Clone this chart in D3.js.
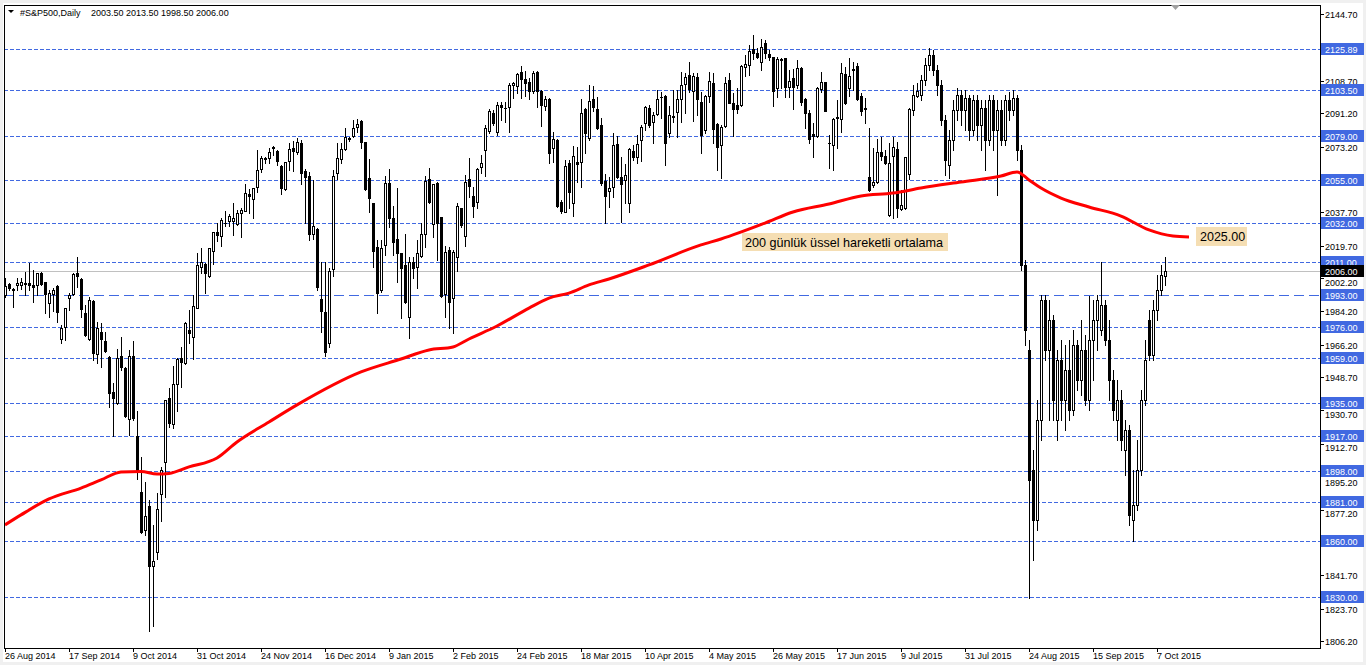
<!DOCTYPE html>
<html><head><meta charset="utf-8">
<script src="https://cdn.jsdelivr.net/npm/d3@7/dist/d3.min.js"></script>
<style>
html,body{margin:0;padding:0;background:#f0f0f0;overflow:hidden;}
svg{display:block;}
text{font-family:"Liberation Sans",Arial,sans-serif;}
</style></head><body>
<svg id="chart" width="1366" height="665"></svg>
<script>
// ---- data ----
const symbol = "#S&P500,Daily";
const tickBars = [0,16,32,48,64,80,96,112,128,144,160,176,192,208,224,240,256,272,288];
const tickLabels = ["26 Aug 2014","17 Sep 2014","9 Oct 2014","31 Oct 2014","24 Nov 2014","16 Dec 2014","9 Jan 2015","2 Feb 2015","24 Feb 2015","18 Mar 2015","10 Apr 2015","4 May 2015","26 May 2015","17 Jun 2015","9 Jul 2015","31 Jul 2015","24 Aug 2015","15 Sep 2015","7 Oct 2015"];

const opens = [
1993.0,1998.8,1996.2,1998.5,1998.5,1999.3,1999.5,1998.6,1998.5,2004.8,
1999.9,1988.6,1993.4,1997.9,1969.5,1975.6,1991.3,1993.4,2004.8,2001.7,
1983.2,1969.1,1990.0,1961.0,1973.2,1968.4,1959.7,1940.7,1934.6,1960.1,
1953.5,1925.9,1960.1,1917.0,1886.7,1866.2,1879.1,1846.7,1854.3,1885.8,
1902.7,1937.3,1923.2,1944.8,1958.9,1956.2,1974.2,1970.2,1986.2,2008.3,
2009.8,2003.5,2017.0,2026.9,2025.1,2032.2,2033.2,2033.2,2031.4,2037.2,
2038.4,2047.4,2045.1,2051.2,2060.9,2066.8,2067.2,2073.1,2070.8,2062.7,
2050.1,2065.6,2072.3,2070.4,2075.0,2060.2,2057.3,2025.8,2028.5,1990.9,
1983.7,1967.0,2006.9,2058.8,2066.3,2071.7,2077.7,2079.1,2083.9,2087.0,
2075.5,2056.1,2042.6,2018.8,1995.8,2020.1,2053.7,2034.8,2023.1,2015.6,
2009.3,1981.0,2011.0,2008.3,2014.3,2025.8,2055.7,2031.2,2053.4,2035.0,
1993.4,2017.4,1991.3,2013.7,2039.9,2025.1,2055.7,2046.5,2043.1,2062.3,
2071.4,2081.6,2091.5,2081.2,2095.7,2094.3,2094.4,2106.5,2105.9,2113.3,
2109.5,2108.2,2103.4,2113.6,2103.4,2095.3,2098.7,2072.3,2076.8,2043.1,
2038.0,2064.2,2042.6,2065.0,2065.0,2093.3,2077.7,2098.7,2093.3,2084.9,
2054.6,2049.4,2051.5,2074.6,2056.9,2055.2,2042.6,2070.8,2067.7,2076.8,
2085.8,2093.9,2086.6,2090.8,2100.2,2100.5,2080.4,2089.7,2092.0,2098.7,
2107.0,2111.9,2103.4,2111.0,2097.4,2082.2,2100.5,2107.7,2085.2,2074.1,
2084.5,2109.2,2096.6,2095.7,2095.7,2116.0,2117.3,2125.9,2123.6,2118.7,
2129.0,2123.2,2121.4,2104.7,2120.4,2120.9,2105.2,2110.1,2106.5,2115.5,
2098.7,2091.2,2080.0,2078.9,2104.1,2107.9,2075.1,2074.1,2089.0,2087.9,
2112.2,2105.0,2115.1,2116.7,2100.5,2093.9,2056.9,2052.5,2054.2,2070.4,
2068.1,2036.3,2068.1,2071.7,2039.3,2039.9,2058.4,2093.0,2100.7,2101.1,
2109.2,2117.3,2122.7,2114.6,2106.5,2087.6,2063.3,2076.8,2093.0,2101.1,
2093.0,2099.4,2082.2,2098.4,2084.9,2094.0,2076.8,2098.4,2082.2,2093.0,
2076.8,2098.4,2093.0,2099.4,2071.4,2009.3,1963.4,1898.6,1871.6,1925.6,
1990.4,1963.4,1979.6,1925.6,1958.0,1936.4,1952.6,1931.0,1966.1,1947.2,
1963.4,1936.4,1968.8,1979.6,1974.2,1987.7,1968.8,1947.2,1925.6,1936.4,
1909.4,1920.2,1871.6,1879.7,1898.6,1936.4,1979.6,1960.7,1985.0,1995.8,
2003.5];

const highs = [
2002.2,1999.7,1997.0,2002.2,2002.4,2005.5,2010.5,2006.6,2005.1,2005.5,
2000.2,1995.8,1996.7,1998.2,1976.9,1986.1,1994.0,2004.8,2013.7,2002.0,
1987.7,1992.1,1990.4,1978.6,1977.8,1973.2,1960.0,1945.3,1963.7,1970.2,
1954.3,1963.4,1968.4,1930.4,1905.6,1892.2,1882.4,1868.9,1886.1,1900.3,
1936.6,1942.7,1954.9,1959.2,1964.8,1978.6,1985.0,1993.1,2015.6,2018.6,
2010.2,2018.5,2027.1,2031.8,2034.5,2038.4,2036.6,2042.6,2039.0,2039.9,
2053.0,2050.1,2050.8,2071.4,2068.1,2067.7,2072.3,2073.5,2071.4,2063.3,
2065.0,2075.0,2076.4,2077.6,2076.8,2060.9,2059.3,2055.2,2029.1,2011.0,
2010.7,2007.5,2060.6,2075.3,2075.0,2083.1,2078.5,2087.6,2087.9,2087.6,
2075.8,2066.3,2042.9,2022.8,2022.8,2057.3,2060.9,2041.1,2050.7,2015.9,
2025.8,2013.7,2013.7,2022.8,2031.8,2057.3,2061.5,2053.2,2054.2,2035.2,
2019.5,2019.1,2017.4,2042.6,2040.0,2057.9,2067.2,2051.5,2061.5,2068.7,
2084.9,2093.3,2093.0,2097.4,2097.4,2097.4,2107.4,2108.2,2113.1,2116.7,
2114.2,2110.1,2114.2,2114.2,2103.8,2100.5,2099.3,2081.2,2077.1,2044.4,
2066.0,2066.0,2073.5,2073.1,2098.7,2093.9,2106.5,2105.9,2100.1,2088.5,
2058.4,2056.9,2080.4,2078.9,2067.7,2063.8,2072.3,2074.1,2079.5,2084.9,
2095.1,2095.7,2092.0,2103.8,2102.8,2101.1,2095.1,2103.8,2103.8,2113.6,
2113.1,2119.0,2112.8,2112.8,2102.8,2101.1,2113.6,2112.8,2085.8,2084.9,
2111.0,2112.8,2102.0,2104.7,2117.3,2122.7,2128.1,2133.5,2126.3,2131.1,
2130.8,2125.4,2121.7,2121.4,2120.9,2121.2,2114.6,2114.9,2120.0,2116.0,
2099.3,2093.0,2085.8,2105.5,2113.6,2108.2,2079.5,2088.5,2098.4,2118.2,
2116.3,2120.9,2119.0,2118.2,2102.0,2099.3,2083.1,2072.3,2077.1,2078.5,
2071.4,2075.0,2078.5,2075.8,2049.8,2067.7,2093.9,2106.5,2107.4,2111.9,
2121.0,2126.4,2125.4,2117.3,2109.2,2090.3,2082.2,2098.4,2104.8,2103.8,
2103.8,2101.1,2101.1,2101.1,2098.4,2098.4,2101.1,2101.1,2098.4,2098.4,
2101.1,2102.7,2103.8,2101.1,2074.1,2012.0,1968.8,1909.4,1936.4,1993.1,
1993.1,1990.4,1982.3,1963.4,1968.8,1966.1,1968.8,1974.2,1968.8,1979.6,
1971.5,1992.5,1990.4,1993.1,2010.9,1990.4,1979.6,1952.6,1947.2,1941.8,
1925.6,1922.9,1898.6,1914.8,1941.8,1968.8,1985.0,1990.4,2003.9,2009.3,
2013.5];

const lows = [
1992.0,1995.8,1986.7,1995.8,1996.3,1993.0,1995.8,1989.4,1993.0,1998.5,
1983.2,1981.3,1984.4,1978.6,1967.3,1968.8,1985.0,1993.0,1997.5,1981.3,
1970.9,1968.8,1958.0,1956.2,1954.3,1962.4,1932.7,1917.1,1934.0,1952.6,
1927.3,1917.5,1925.6,1893.7,1864.7,1863.5,1811.8,1814.3,1850.3,1871.2,
1884.1,1922.0,1921.4,1930.6,1943.5,1955.8,1967.1,1958.3,1985.9,2004.8,
1994.3,2002.9,2009.8,2022.2,2019.5,2030.3,2030.3,2025.5,2030.9,2024.5,
2038.3,2037.2,2034.5,2048.8,2059.6,2064.2,2064.2,2068.7,2063.3,2047.4,
2049.8,2060.6,2060.2,2069.0,2052.8,2031.8,2022.8,2023.1,1995.8,1973.2,
1960.1,1965.1,2003.5,2055.5,2064.2,2071.4,2076.4,2078.5,2081.2,2072.3,
2049.8,2038.0,2008.3,1983.5,1994.8,2014.7,2029.9,2014.7,2000.2,1980.5,
1989.0,1969.6,2002.0,1996.7,2013.7,2019.1,2042.6,2024.5,2012.0,1992.1,
1981.3,1975.0,1972.7,2006.2,2029.6,2019.7,2046.1,2035.3,2039.9,2058.8,
2057.3,2080.7,2084.9,2079.5,2087.6,2086.6,2081.2,2099.3,2102.0,2099.3,
2100.5,2098.7,2102.3,2094.7,2084.3,2093.0,2064.2,2065.0,2040.7,2037.2,
2037.8,2039.9,2035.9,2054.2,2051.5,2069.9,2076.8,2092.6,2082.7,2052.5,
2032.1,2040.7,2046.1,2056.1,2032.6,2042.6,2038.0,2066.0,2064.2,2065.6,
2082.2,2083.9,2075.0,2090.3,2088.5,2063.3,2078.5,2086.6,2078.5,2086.6,
2091.5,2102.8,2087.2,2090.3,2069.6,2080.4,2097.4,2075.0,2060.6,2056.1,
2083.6,2096.6,2078.9,2091.2,2095.1,2111.3,2111.9,2120.3,2120.9,2114.6,
2120.9,2120.0,2095.1,2100.1,2104.7,2100.1,2100.1,2093.3,2104.7,2095.7,
2083.1,2075.3,2067.7,2078.5,2102.8,2092.4,2061.5,2060.6,2072.3,2081.2,
2096.2,2100.5,2103.8,2098.4,2090.3,2085.8,2049.4,2051.5,2053.7,2066.0,
2064.0,2035.7,2034.5,2035.0,2039.0,2039.3,2055.5,2090.3,2100.1,2098.4,
2106.5,2114.6,2111.9,2101.1,2084.9,2057.9,2056.2,2071.4,2087.6,2084.9,
2082.2,2076.8,2079.5,2076.8,2071.4,2060.6,2074.1,2071.4,2047.1,2074.1,
2074.1,2087.6,2090.3,2066.0,2006.6,1966.1,1829.5,1850.0,1866.2,1914.8,
1958.0,1925.6,1925.6,1914.8,1925.6,1920.2,1925.6,1928.3,1941.8,1939.1,
1933.7,1931.0,1947.2,1963.4,1971.5,1966.1,1936.4,1925.6,1914.8,1909.4,
1895.9,1868.9,1860.2,1877.0,1895.9,1933.7,1958.0,1958.0,1979.6,1993.1,
1998.5];

const closes = [
1997.9,1996.7,1996.0,1999.4,2000.1,1999.1,1998.5,1997.2,2004.8,1998.8,
1993.4,1994.3,1995.8,1984.0,1975.1,1985.9,1992.9,2004.4,2003.5,1985.3,
1971.5,1990.4,1961.9,1975.1,1969.1,1963.0,1940.3,1937.4,1958.9,1954.3,
1927.9,1960.1,1926.8,1898.0,1865.2,1873.7,1846.9,1849.4,1877.5,1898.6,
1936.4,1924.1,1944.8,1958.3,1956.7,1978.1,1972.7,1987.3,2009.3,2010.7,
2004.8,2018.3,2026.9,2025.5,2033.6,2032.0,2035.7,2034.5,2037.2,2039.0,
2048.0,2046.7,2050.7,2060.6,2067.2,2067.0,2070.4,2072.4,2065.6,2050.7,
2064.7,2071.7,2071.0,2075.5,2058.8,2057.0,2025.8,2030.3,1997.5,1984.6,
1962.4,2006.2,2057.5,2066.9,2071.7,2078.2,2077.1,2083.1,2085.4,2075.5,
2050.3,2045.6,2017.0,1994.3,2018.3,2053.7,2034.8,2021.5,2015.9,2007.5,
1989.4,2011.0,2007.5,2015.9,2025.8,2054.6,2043.4,2053.0,2031.8,1992.5,
2016.1,1989.1,2016.1,2041.1,2030.9,2053.9,2052.1,2041.3,2061.1,2064.2,
2083.1,2092.4,2085.8,2095.7,2094.4,2094.1,2106.5,2107.4,2112.2,2109.5,
2107.4,2103.4,2113.1,2103.4,2095.7,2098.7,2069.6,2077.1,2041.1,2038.4,
2062.9,2048.8,2068.1,2063.8,2091.2,2080.4,2097.8,2094.4,2083.4,2053.4,
2046.7,2050.7,2074.1,2056.9,2052.8,2057.9,2071.9,2067.7,2074.4,2083.9,
2094.4,2084.9,2090.3,2098.7,2100.0,2075.0,2090.3,2089.0,2098.7,2106.5,
2110.6,2104.1,2111.3,2098.7,2079.5,2100.5,2108.6,2082.7,2073.1,2083.6,
2107.4,2096.9,2093.3,2093.3,2116.7,2117.6,2125.0,2123.6,2121.4,2126.8,
2123.6,2121.7,2103.4,2120.3,2120.2,2105.5,2108.6,2105.2,2115.5,2097.4,
2091.2,2077.1,2078.9,2104.7,2108.2,2092.6,2074.9,2087.9,2088.5,2113.1,
2096.9,2111.3,2114.6,2098.7,2092.6,2093.3,2049.8,2053.9,2070.4,2068.1,
2064.2,2064.2,2072.8,2039.9,2041.7,2067.4,2093.3,2101.1,2103.4,2109.2,
2117.3,2122.7,2114.6,2106.5,2087.6,2066.0,2076.8,2093.0,2101.1,2093.0,
2099.4,2082.2,2098.4,2084.9,2094.0,2076.8,2098.4,2082.2,2093.0,2076.8,
2098.4,2093.0,2099.4,2071.4,2009.3,1974.2,1893.2,1871.6,1925.6,1990.4,
1963.4,1979.6,1936.4,1958.0,1936.4,1952.6,1931.0,1966.1,1947.2,1963.4,
1936.4,1968.8,1979.6,1990.4,1987.7,1968.8,1947.2,1931.0,1936.4,1914.8,
1920.2,1874.3,1879.7,1898.6,1936.4,1958.0,1960.7,1985.0,1995.8,2003.9,
2006.0];

// 200-period exponential moving average, sampled at bar positions
const emaBars   = [0,4,11,19,24,29,34,38,41,46,53,58,66,73,89,99,106,112,116,123,131,136,141,146,151,161,174,179,190,197,206,214,222,229,239,249,253,256,259,264,271,279,286,292,296];
const emaValues = [1868.9,1874.3,1882.9,1888.8,1893.2,1897.5,1897.8,1896.4,1896.7,1900.2,1905.0,1913.7,1924.5,1933.7,1951.5,1958.5,1963.4,1965.0,1969.3,1976.3,1986.0,1991.4,1994.1,1998.5,2001.7,2009.3,2020.1,2023.3,2031.9,2037.9,2042.2,2046.5,2048.1,2050.8,2054.1,2057.3,2059.5,2055.2,2050.8,2045.4,2040.6,2035.7,2028.2,2024.9,2024.4];
const emaNote = "200 günlük üssel hareketli ortalama";
const emaLastLabel = "2025.00";

// horizontal support / resistance levels
const levels = [2125.89,2103.50,2079.00,2055.00,2032.00,2011.00,1976.00,1959.00,1935.00,1917.00,1898.00,1881.00,1860.00,1830.00];
const dashDotLevel = 1993.00;
// price scale ticks that are not fully covered by a level tag
const priceTicks = [2144.70,2108.70,2091.20,2073.20,2037.70,2019.70,2002.20,1984.20,1966.20,1948.70,1930.70,1912.70,1895.20,1877.20,1841.70,1823.70,1806.20];

// ---- drawing ----
const svg = d3.select("#chart");
const plot = {left: 4, top: 5, right: 1320, bottom: 648};
const lastIdx = opens.length - 1;
const x = d3.scaleLinear().domain([0, lastIdx]).range([5, 5 + 4 * lastIdx]);
const y = d3.scaleLinear().domain([1806.2, 2144.7]).range([641, 14.2]);
const py = v => Math.round(y(v));
const blue = "#4169E1";
const tagH = 12;

// white chart surface
svg.append("rect").attr("x", 3).attr("y", 3).attr("width", 1360).attr("height", 659).attr("fill", "#fff");

svg.append("defs").append("clipPath").attr("id", "plotclip")
  .append("rect").attr("x", plot.left + 1).attr("y", plot.top + 1)
  .attr("width", plot.right - plot.left - 1).attr("height", plot.bottom - plot.top - 1);

const g = svg.append("g").attr("clip-path", "url(#plotclip)");

// level lines
g.selectAll("line.level").data(levels).join("line")
  .attr("x1", plot.left).attr("x2", plot.right)
  .attr("y1", d => py(d) + 0.5).attr("y2", d => py(d) + 0.5)
  .attr("stroke", blue).attr("stroke-width", 1).attr("stroke-dasharray", "4,2")
  .attr("shape-rendering", "crispEdges");
g.append("line")
  .attr("x1", plot.left).attr("x2", plot.right)
  .attr("y1", py(dashDotLevel) + 0.5).attr("y2", py(dashDotLevel) + 0.5)
  .attr("stroke", blue).attr("stroke-width", 1).attr("stroke-dasharray", "10,5")
  .attr("shape-rendering", "crispEdges");
// bid line
g.append("line")
  .attr("x1", plot.left).attr("x2", plot.right)
  .attr("y1", py(closes[lastIdx]) + 0.5).attr("y2", py(closes[lastIdx]) + 0.5)
  .attr("stroke", "#c0c0c0").attr("stroke-width", 1).attr("shape-rendering", "crispEdges");

// candles
const bars = opens.map((o, i) => ({i, o, h: highs[i], l: lows[i], c: closes[i]}));
const cg = g.append("g").attr("shape-rendering", "crispEdges");
const candle = cg.selectAll("g").data(bars).join("g");
candle.append("line")
  .attr("x1", d => Math.round(x(d.i)) + 0.5).attr("x2", d => Math.round(x(d.i)) + 0.5)
  .attr("y1", d => py(d.h)).attr("y2", d => py(d.l) + 1)
  .attr("stroke", "#000");
candle.each(function(d) {
  const cx = Math.round(x(d.i));
  const top = py(Math.max(d.o, d.c)), bot = py(Math.min(d.o, d.c));
  const sel = d3.select(this);
  if (d.c > d.o) {
    sel.append("rect").attr("x", cx - 0.5).attr("y", top + 0.5)
      .attr("width", 2).attr("height", Math.max(bot - top, 1))
      .attr("fill", "#fff").attr("stroke", "#000").attr("stroke-width", 1);
  } else {
    sel.append("rect").attr("x", cx - 1).attr("y", top)
      .attr("width", 3).attr("height", Math.max(bot - top, 0) + 1)
      .attr("fill", "#000");
  }
});

// EMA line
const ema = emaBars.map((b, i) => [b, emaValues[i]]);
g.append("path").datum(ema)
  .attr("d", d3.line().x(d => x(d[0])).y(d => y(d[1])).curve(d3.curveMonotoneX))
  .attr("fill", "none").attr("stroke", "#ff0000").attr("stroke-width", 3)
  .attr("stroke-linejoin", "round");

// annotation for the EMA
const noteG = svg.append("g");
noteG.append("rect").attr("x", 742).attr("y", 233).attr("width", 206).attr("height", 18).attr("fill", "#f5deb3");
noteG.append("text").attr("x", 745).attr("y", 246.5).attr("font-size", 12.6).attr("fill", "#000").text(emaNote);
const lastEma = emaValues[emaValues.length - 1];
noteG.append("rect").attr("x", 1196).attr("y", y(lastEma) - 10).attr("width", 51).attr("height", 19).attr("fill", "#f5deb3");
noteG.append("text").attr("x", 1200).attr("y", y(lastEma) + 4).attr("font-size", 12.5).attr("fill", "#000").text(emaLastLabel);

// frame
svg.append("rect").attr("x", plot.left + 0.5).attr("y", plot.top + 0.5)
  .attr("width", plot.right - plot.left).attr("height", plot.bottom - plot.top)
  .attr("fill", "none").attr("stroke", "#000").attr("shape-rendering", "crispEdges");

// price axis: a scale label that would run into a level tag sits just under it
const tagValues = levels.concat([dashDotLevel, closes[lastIdx]]);
const axR = svg.append("g").attr("font-size", 9);
priceTicks.forEach(v => {
  const yy = py(v);
  axR.append("line").attr("x1", plot.right).attr("x2", plot.right + 4)
    .attr("y1", yy + 0.5).attr("y2", yy + 0.5).attr("stroke", "#000").attr("shape-rendering", "crispEdges");
  let base = yy + 3.5;
  tagValues.forEach(t => {
    const ty = py(t);
    if (ty <= yy && ty + 6 > base - 8.5) base = ty + 6 + 8.6;
  });
  axR.append("text").attr("x", 1325).attr("y", base).attr("fill", "#000").text(v.toFixed(2));
});
levels.concat([dashDotLevel]).forEach(v => {
  const yy = py(v);
  axR.append("rect").attr("x", plot.right + 1).attr("y", yy - 6).attr("width", 43).attr("height", tagH).attr("fill", blue);
  axR.append("text").attr("x", 1325).attr("y", yy + 3.5).attr("fill", "#fff").text(v.toFixed(2));
});
{
  const v = closes[lastIdx], yy = py(v);
  axR.append("rect").attr("x", plot.right + 1).attr("y", yy - 6).attr("width", 43).attr("height", tagH).attr("fill", "#000");
  axR.append("text").attr("x", 1325).attr("y", yy + 3.5).attr("fill", "#fff").text(v.toFixed(2));
}

// time axis
const axB = svg.append("g").attr("font-size", 9);
tickBars.forEach((b, i) => {
  const xx = Math.round(x(b));
  axB.append("line").attr("x1", xx + 0.5).attr("x2", xx + 0.5).attr("y1", plot.bottom).attr("y2", plot.bottom + 4)
    .attr("stroke", "#000").attr("shape-rendering", "crispEdges");
  axB.append("text").attr("x", xx).attr("y", 659).attr("fill", "#000").text(tickLabels[i]);
});

// title
svg.append("path").attr("d", "M8,10 L14,10 L11,13 Z").attr("fill", "#000");
svg.append("text").attr("x", 20).attr("y", 16).attr("font-size", 9).attr("fill", "#000").text(symbol);
svg.append("text").attr("x", 91).attr("y", 16).attr("font-size", 9).attr("fill", "#000")
  .text([opens[lastIdx], highs[lastIdx], lows[lastIdx], closes[lastIdx]].map(v => v.toFixed(2)).join(" "));

// chart shift marker
svg.append("path").attr("d", "M1171,5 L1180,5 L1175.5,10 Z").attr("fill", "#a0a0a0");
</script>
</body></html>
